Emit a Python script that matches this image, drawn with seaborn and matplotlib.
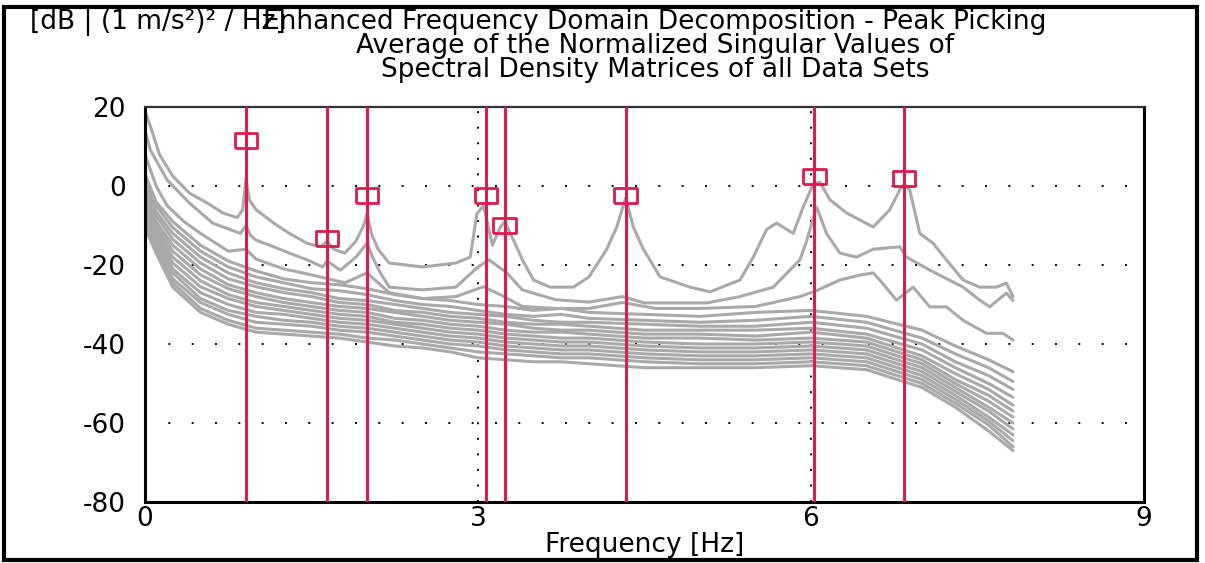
import numpy as np
import pandas as pd
import matplotlib
matplotlib.use("Agg")
import matplotlib.pyplot as plt
from matplotlib.patches import Rectangle
import seaborn as sns

# ---------------- data ----------------
title_lines = ["Enhanced Frequency Domain Decomposition - Peak Picking",
               "Average of the Normalized Singular Values of",
               "Spectral Density Matrices of all Data Sets"]
ylabel_text = "[dB | (1 m/s\u00b2)\u00b2 / Hz]"
xlabel_text = "Frequency [Hz]"
x_ticks = [0, 3, 6, 9]
y_ticks = [20, 0, -20, -40, -60, -80]

# picked peaks
peak_freq = [0.91, 1.64, 2.00, 3.07, 3.24, 4.33, 6.03, 6.84]
peak_db = [11.5, -13.3, -2.3, -2.5, -10.0, -2.4, 2.5, 2.0]

# first singular value
sv1_f = [0, 0.05, 0.13, 0.25, 0.4, 0.56, 0.7, 0.83, 0.88, 0.91, 0.94, 1.0, 1.16, 1.3, 1.46,
         1.58, 1.64, 1.7, 1.8, 1.9, 1.97, 2.0, 2.04, 2.1, 2.2, 2.5, 2.8, 2.93, 2.99, 3.05,
         3.09, 3.13, 3.2, 3.24, 3.32, 3.4, 3.5, 3.65, 3.86, 4.0, 4.16, 4.25, 4.33, 4.4, 4.49,
         4.64, 4.91, 5.09, 5.36, 5.48, 5.6, 5.69, 5.84, 5.93, 6.02, 6.08, 6.17, 6.32, 6.56,
         6.71, 6.8, 6.84, 6.89, 6.98, 7.1, 7.22, 7.37, 7.52, 7.67, 7.76, 7.82]
sv1_db = [19, 15, 8, 2.5, -1.8, -4.3, -6.8, -8, -6, 2, -3.5, -6, -9.4, -12, -14.5,
          -15.4, -14, -16, -17, -14, -10, -7, -12, -16, -19.5, -20.5, -19.5, -18, -7, -5,
          -10, -15, -10.5, -9, -13.7, -18.7, -23.8, -25.6, -25.6, -23, -16, -10.4, -3, -10.4, -16,
          -23, -25.6, -26.8, -23.8, -18, -11, -9.4, -12, -5.3, 0.5, 1, -3.5, -6.8, -10.4,
          -6, -1, 0.5, -1, -12, -14.5, -18.7, -23.8, -25.6, -25.6, -24.6, -28]

# second singular value
sv2_f = [0, 0.05, 0.2, 0.4, 0.61, 0.86, 0.91, 0.95, 1.0, 1.16, 1.3, 1.46, 1.6, 1.64, 1.76,
         1.9, 2.0, 2.05, 2.12, 2.2, 2.5, 2.8, 3.0, 3.1, 3.26, 3.4, 3.7, 4.0, 4.3, 4.5, 5.06,
         5.36, 5.66, 5.9, 5.96, 6.05, 6.14, 6.26, 6.41, 6.56, 6.8, 6.86, 7.07, 7.37, 7.52,
         7.61, 7.76, 7.82]
sv2_db = [14, 9, 1.5, -4.3, -9.4, -12, -10, -12.5, -13.7, -15.4, -17, -18.7, -20.5, -19, -21.3,
          -18, -14.5, -18, -22, -25.6, -26.3, -25.6, -20.5, -18.7, -22, -26.3, -28.8, -29.4, -28, -29.6, -29.6,
          -28, -25.6, -18.7, -14, -5.3, -12, -17, -18, -16, -15.4, -18, -21.3, -25.6, -28.9,
          -30.6, -27.1, -29]

# third singular value
sv3_f = [0, 0.1, 0.2, 0.35, 0.5, 0.75, 0.91, 1.0, 1.25, 1.5, 1.8, 2.0, 2.2, 2.5, 2.8, 3.05,
         3.2, 3.4, 3.7, 4.0, 4.3, 4.6, 5.0, 5.5, 5.9, 6.05, 6.26, 6.45, 6.56, 6.62, 6.77,
         6.92, 7.07, 7.22, 7.37, 7.58, 7.73, 7.82]
sv3_db = [8, 0, -5, -9, -12, -16.5, -16, -18.5, -21, -22.5, -24.5, -22, -27, -28.5, -28, -25.5,
          -27.5, -30.5, -31, -31, -29.5, -31, -31, -30.5, -28, -26.5, -23.8, -22.5, -22, -23.8, -28.9,
          -25.6, -30.6, -30.6, -34, -37.3, -37.3, -39]

# remaining singular values on a common frequency grid
fb = [0, 0.1, 0.25, 0.5, 0.75, 1.0, 1.25, 1.5, 1.75, 2.0, 2.25, 2.5, 2.75, 3.0, 3.25, 3.5, 3.75,
      4.0, 4.5, 5.0, 5.5, 6.0, 6.5, 7.0, 7.3, 7.6, 7.82]
sv4_db = [3, -4, -9, -15, -19, -21.5, -23.5, -24.5, -25, -26, -27.5, -28.5, -29, -30, -30.5, -31.5, -31,
          -32, -32.5, -33, -32, -31.5, -33, -36.5, -40.5, -44, -47]
sv5_db = [1, -5, -10.5, -16.5, -20.5, -23, -24.5, -26, -26.5, -27.5, -29, -30, -30.5, -31.5, -32.5, -33, -32.5,
          -33.5, -34, -34.5, -34, -33, -34.5, -38.5, -42.5, -46, -49.5]
sv6_db = [0, -6.5, -12, -18, -22, -24.5, -26, -27, -28.5, -29, -30, -31, -32, -32.5, -33, -34, -34.5,
          -34.5, -35, -35.5, -35.5, -34.5, -36, -40, -44.5, -48, -51.5]
sv7_db = [-1, -7.5, -13.5, -19.5, -23.5, -25.5, -27, -28, -29.5, -30, -31.5, -32, -33, -33.5, -34.5, -35, -35,
          -35.5, -36.5, -36.5, -36.5, -36, -37.5, -41.5, -46, -50, -53.5]
sv8_db = [-2, -9, -15, -21, -25, -27, -28.5, -29.5, -30.5, -31, -32, -33, -34, -34.5, -35, -36, -36.5,
          -36.5, -37.5, -37.5, -38, -37, -38.5, -43, -47.5, -51.5, -55.5]
sv9_db = [-3, -10, -16.5, -22.5, -26, -28, -29.5, -30.5, -31.5, -32, -33.5, -34, -35, -35.5, -36.5, -37, -37,
          -37.5, -38.5, -38.5, -39, -38.5, -39.5, -44, -49, -53, -57]
sv10_db = [-4, -11, -18, -24, -27.5, -29.5, -30.5, -31.5, -32.5, -33, -34.5, -35, -36, -36.5, -37.5, -38, -38.5,
           -38.5, -39.5, -40, -40, -39.5, -40.5, -45, -50, -54.5, -58.5]
sv11_db = [-5, -12, -19.5, -25.5, -28.5, -30.5, -31.5, -32.5, -33.5, -34, -35, -36, -37, -37.5, -38.5, -39, -39.5,
           -39.5, -40.5, -41, -41, -40.5, -41.5, -46, -51, -56, -60]
sv12_db = [-6, -13, -21, -27, -30, -32, -32.5, -33.5, -34.5, -35, -36, -37, -38, -38.5, -39.5, -40, -40.5,
           -40.5, -41.5, -42, -42, -41.5, -42.5, -47, -52, -57, -61.5]
sv13_db = [-7, -14, -22, -28.5, -31.5, -33, -34, -34.5, -35.5, -36, -37, -38, -39, -39.5, -40.5, -41, -41.5,
           -41.5, -42.5, -43, -43, -42.5, -43.5, -48, -53, -58.5, -63]
sv14_db = [-8, -15, -23.5, -29.5, -32.5, -34.5, -35, -35.5, -36.5, -37, -38, -39, -40, -40.5, -41.5, -42, -42.5,
           -42.5, -43.5, -44, -44, -43.5, -44.5, -49, -54, -59.5, -64.5]
sv15_db = [-9, -16, -24.5, -31, -34, -36, -36.5, -37, -37.5, -38.5, -39, -40, -41, -42, -42.5, -43, -43.5,
           -43.5, -44.5, -45, -45, -44.5, -45.5, -50, -55, -60.5, -66]
sv16_db = [-10.5, -17, -25.6, -32, -35, -37, -37.5, -38, -38.5, -39.5, -40.5, -41, -42, -43.5, -44, -44.5, -44.5,
           -45, -46, -46, -46, -45.5, -46.5, -51, -56, -62, -67]

# ---------------- build long table ----------------
rows = []
for name, fx, dy in [("sv1", sv1_f, sv1_db), ("sv2", sv2_f, sv2_db), ("sv3", sv3_f, sv3_db)]:
    for a, b in zip(fx, dy):
        rows.append((name, a, b))
bundle = [sv4_db, sv5_db, sv6_db, sv7_db, sv8_db, sv9_db, sv10_db, sv11_db,
          sv12_db, sv13_db, sv14_db, sv15_db, sv16_db]
for i, dy in enumerate(bundle):
    for a, b in zip(fb, dy):
        rows.append((f"sv{i+4}", a, b))
df = pd.DataFrame(rows, columns=["curve", "freq", "db"])
peaks = pd.DataFrame({"freq": peak_freq, "db": peak_db})

# ---------------- figure ----------------
sns.set_style("white")
plt.rcParams["font.family"] = ["DejaVu Sans"]
plt.rcParams["axes.unicode_minus"] = False
plt.rcParams["text.color"] = "black"
plt.rcParams["axes.labelcolor"] = "black"
plt.rcParams["xtick.color"] = "black"
plt.rcParams["ytick.color"] = "black"

W, H = 1205, 563
FS = 19
fig = plt.figure(figsize=(W / 100, H / 100), dpi=100)
ax = fig.add_axes([145 / W, 1 - 502 / H, (1144 - 145) / W, (502 - 107) / H])

GRAY = "#a9a9a9"
RED = "#dc1c50"

# dotted grid
for yv in [0, -20, -40, -60]:
    ax.axhline(yv, color="black", lw=1.4, dashes=(1, 11), zorder=1)
for xv in [3, 6]:
    ax.axvline(xv, color="black", lw=1.4, dashes=(1, 7), zorder=1)

sns.lineplot(data=df, x="freq", y="db", units="curve", estimator=None, sort=False,
             color=GRAY, lw=2.2, ax=ax, legend=False, zorder=2)

for pf in peak_freq:
    ax.axvline(pf, color=RED, lw=2.2, zorder=3)

rect_marker = [(-1.5, -1), (1.5, -1), (1.5, 1), (-1.5, 1), (-1.5, -1)]
sns.scatterplot(data=peaks, x="freq", y="db", marker=rect_marker, s=260,
                facecolor="none", edgecolor=RED, linewidth=2.0, ax=ax, zorder=4)

ax.set_xlim(0, 9)
ax.set_ylim(-80, 20)
ax.set_xticks(x_ticks)
ax.set_yticks(y_ticks)
ax.tick_params(axis="y", length=0, labelsize=FS, pad=14, colors="black")
ax.tick_params(axis="x", length=0, labelsize=FS, pad=3, colors="black")
ax.set_xlabel(xlabel_text, fontsize=FS, labelpad=0, color="black")
ax.set_ylabel("")

for side in ["left", "bottom", "right"]:
    ax.spines[side].set_color("black")
    ax.spines[side].set_linewidth(2.2)
ax.spines["top"].set_color("#333333")
ax.spines["top"].set_linewidth(1.6)

# titles
ys = [22, 46, 70]
for t, yy in zip(title_lines, ys):
    fig.text(655 / W, 1 - yy / H, t, ha="center", va="center", fontsize=FS, color="black")
fig.text(30 / W, 1 - 22 / H, ylabel_text, ha="left", va="center", fontsize=FS, color="black")

# frame
fig.patches.append(Rectangle((4 / W, 3 / H), (1197 - 4) / W, (556 - 3) / H,
                             transform=fig.transFigure, fill=False,
                             edgecolor="black", lw=3))

fig.savefig("out.png", dpi=100)
